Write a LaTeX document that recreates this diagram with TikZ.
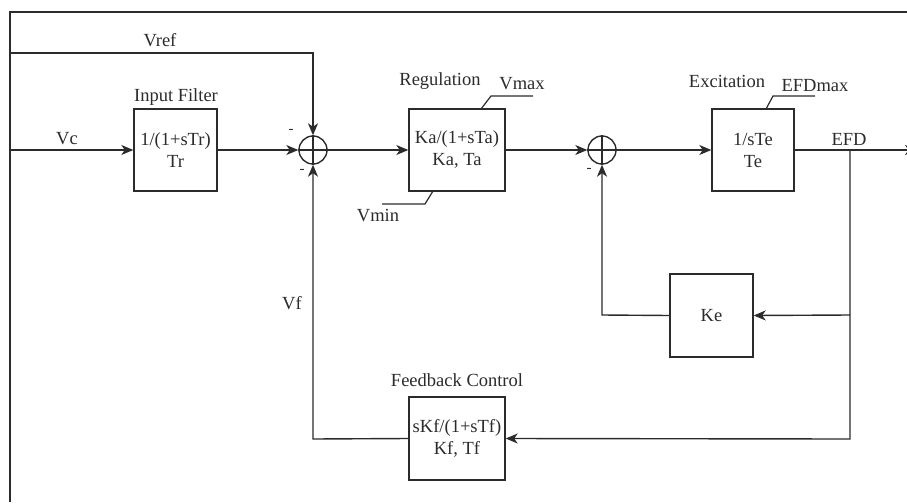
\documentclass[tikz,border=0pt]{standalone}
\usepackage{fontspec}
\setmainfont{Liberation Serif}
\usetikzlibrary{arrows.meta,calc}
\definecolor{ink}{HTML}{2B2B2B}
\begin{document}
\begin{tikzpicture}[x=1pt,y=-1pt,
  every node/.style={font=\fontsize{18.5}{22}\selectfont, text=ink},
  blk/.style={draw=ink, line width=1.4pt, align=center, inner sep=0pt, minimum height=82pt},
  sumj/.style={draw=ink, line width=1.4pt, circle, minimum size=28pt, inner sep=0pt},
  wire/.style={draw=ink, line width=1.4pt},
  arr/.style={wire, -{Stealth[length=12pt,width=10pt,inset=3.5pt]}},
  lbl/.style={inner sep=0pt},
  sgn/.style={inner sep=0pt, font=\fontsize{15}{15}\selectfont}]
\useasboundingbox (0,0) rectangle (907,503);
\clip (0,0) rectangle (907,503);
% frame
\coordinate (tl) at (10,12);
\coordinate (tr) at (907,12);
\coordinate (bl) at (10,502);
\draw[wire] (tr) -- (tl) -- (bl);
% blocks
\node[blk, minimum width=83pt] (inf) at (175.5,150) {1/(1+sTr)\\Tr};
\node[sumj] (s1) at (313,150) {};
\node[blk, minimum width=96pt] (reg) at (457,150) {Ka/(1+sTa)\\Ka, Ta};
\node[sumj] (s2) at (602,150) {};
\node[blk, minimum width=82pt] (exc) at (753,150) {1/sTe\\Te};
\node[blk, minimum width=83pt, minimum height=83pt] (ke) at (711.5,315.5) {Ke};
\node[blk, minimum width=96pt, minimum height=83pt] (fb) at (457,438.5) {sKf/(1+sTf)\\Kf, Tf};
% summer crosses
\draw[wire] (s1.north) -- (s1.south) (s1.west) -- (s1.east);
\draw[wire] (s2.north) -- (s2.south) (s2.west) -- (s2.east);
% coordinates
\coordinate (vcin) at (10,150);
\coordinate (vrefin) at (10,53);
\coordinate (vrefc) at (313,53);
\coordinate (vfc) at (313,439);
\coordinate (out) at (917,150);
\coordinate (br1) at (850,150);
\coordinate (br2) at (850,315);
\coordinate (br3) at (850,439);
\coordinate (kec) at (602,315);
% connectors
\draw[arr] (vcin) -- (inf.west);
\draw[arr] (inf.east) -- (s1.west);
\draw[arr] (vrefin) -- (vrefc) -- (s1.north);
\draw[arr] (fb.west) -- (vfc) -- (s1.south);
\draw[arr] (s1.east) -- (reg.west);
\draw[arr] (reg.east) -- (s2.west);
\draw[arr] (s2.east) -- (exc.west);
\draw[arr] (exc.east) -- (out);
\draw[arr] (br1) -- (br3) -- (fb.east);
\draw[arr] (br2) -- (ke.east);
\draw[arr] (ke.west) -- (kec) -- (s2.south);
% limit leaders
\coordinate (vmaxa) at (481,109);
\coordinate (vmaxb) at (491,96);
\coordinate (vmaxc) at (533,96);
\draw[wire, line width=1.2pt] (vmaxa) -- (vmaxb) -- (vmaxc);
\coordinate (vmina) at (433,191);
\coordinate (vminb) at (425,204);
\coordinate (vminc) at (382,204);
\draw[wire, line width=1.2pt] (vmina) -- (vminb) -- (vminc);
\coordinate (efda) at (766,109);
\coordinate (efdb) at (773,96);
\coordinate (efdc) at (815,96);
\draw[wire, line width=1.2pt] (efda) -- (efdb) -- (efdc);
% labels
\node[lbl] (lvref) at (160,40) {Vref};
\node[lbl] (lvc) at (67,139) {Vc};
\node[lbl] (linf) at (176,97) {Input Filter};
\node[lbl] (lreg) at (440,81) {Regulation};
\node[lbl] (lvmax) at (522,84) {Vmax};
\node[lbl] (lvmin) at (378,216) {Vmin};
\node[lbl] (lexc) at (727,81) {Excitation};
\node[lbl] (lefdmax) at (815,86) {EFDmax};
\node[lbl] (lefd) at (849,139) {EFD};
\node[lbl] (lvf) at (292,303) {Vf};
\node[lbl] (lfb) at (457,380) {Feedback Control};
\node[sgn] (m1) at (291,131) {-};
\node[sgn] (m2) at (302,171) {-};
\node[sgn] (m3) at (589,170) {-};
\end{tikzpicture}
\end{document}
